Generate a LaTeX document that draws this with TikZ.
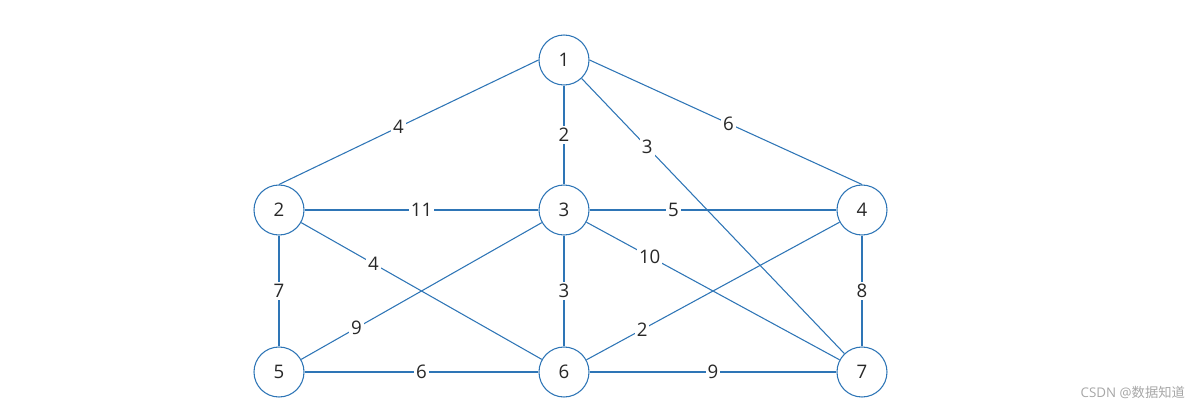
\documentclass[tikz,border=0pt]{standalone}
\usepackage{fontspec}
\setmainfont{Open Sans}
\newfontfamily\cjk{Noto Sans CJK SC}
\definecolor{edgeblue}{RGB}{46,117,182}
\definecolor{txtgray}{RGB}{40,40,40}
\tikzset{every picture/.style={line width=0.8pt}}
\begin{document}
\begin{tikzpicture}[x=0.75pt,y=0.75pt,yscale=-1,xscale=1,
  vertex/.style={circle,draw=edgeblue,fill=white,minimum size=37.5pt,inner sep=0pt,font=\fontsize{14}{16}\selectfont,text=txtgray},
  wlabel/.style={fill=white,inner sep=1.5pt,font=\fontsize{14}{16}\selectfont,text=txtgray},
  edge/.style={draw=edgeblue}]
\useasboundingbox (0,0) rectangle (1204,412);

% vertices
\node[vertex] (v1) at (564,60) {1};
\node[vertex] (v2) at (279,210) {2};
\node[vertex] (v3) at (564,210) {3};
\node[vertex] (v4) at (862,210) {4};
\node[vertex] (v5) at (279,372) {5};
\node[vertex] (v6) at (564,372) {6};
\node[vertex] (v7) at (862,372) {7};

% weighted edges
\draw[edge] (v1.west) -- node[wlabel,pos=0.54] {4} (v2.north);
\draw[edge] (v1) -- node[wlabel] {2} (v3);
\draw[edge] (v1.east) -- node[wlabel,pos=0.51] {6} (v4.north);
\draw[edge] (v1) -- node[wlabel,pos=0.25] {3} (v7);
\draw[edge] (v2) -- node[wlabel] {11} (v3);
\draw[edge] (v3) -- node[wlabel,pos=0.34] {5} (v4);
\draw[edge] (v2) -- node[wlabel,pos=0.3] {4} (v6);
\draw[edge] (v2) -- node[wlabel] {7} (v5);
\draw[edge] (v3) -- node[wlabel,pos=0.77] {9} (v5);
\draw[edge] (v3) -- node[wlabel] {3} (v6);
\draw[edge] (v3) -- node[wlabel,pos=0.25] {10} (v7);
\draw[edge] (v4) -- node[wlabel,pos=0.78] {2} (v6);
\draw[edge] (v4) -- node[wlabel] {8} (v7);
\draw[edge] (v5) -- node[wlabel] {6} (v6);
\draw[edge] (v6) -- node[wlabel,pos=0.5] {9} (v7);

% watermark
\node[anchor=east,text=gray!70,font=\fontsize{10}{12}\selectfont] (wm) at (1190,392) {CSDN @{\cjk 数据知道}};
\end{tikzpicture}
\end{document}
